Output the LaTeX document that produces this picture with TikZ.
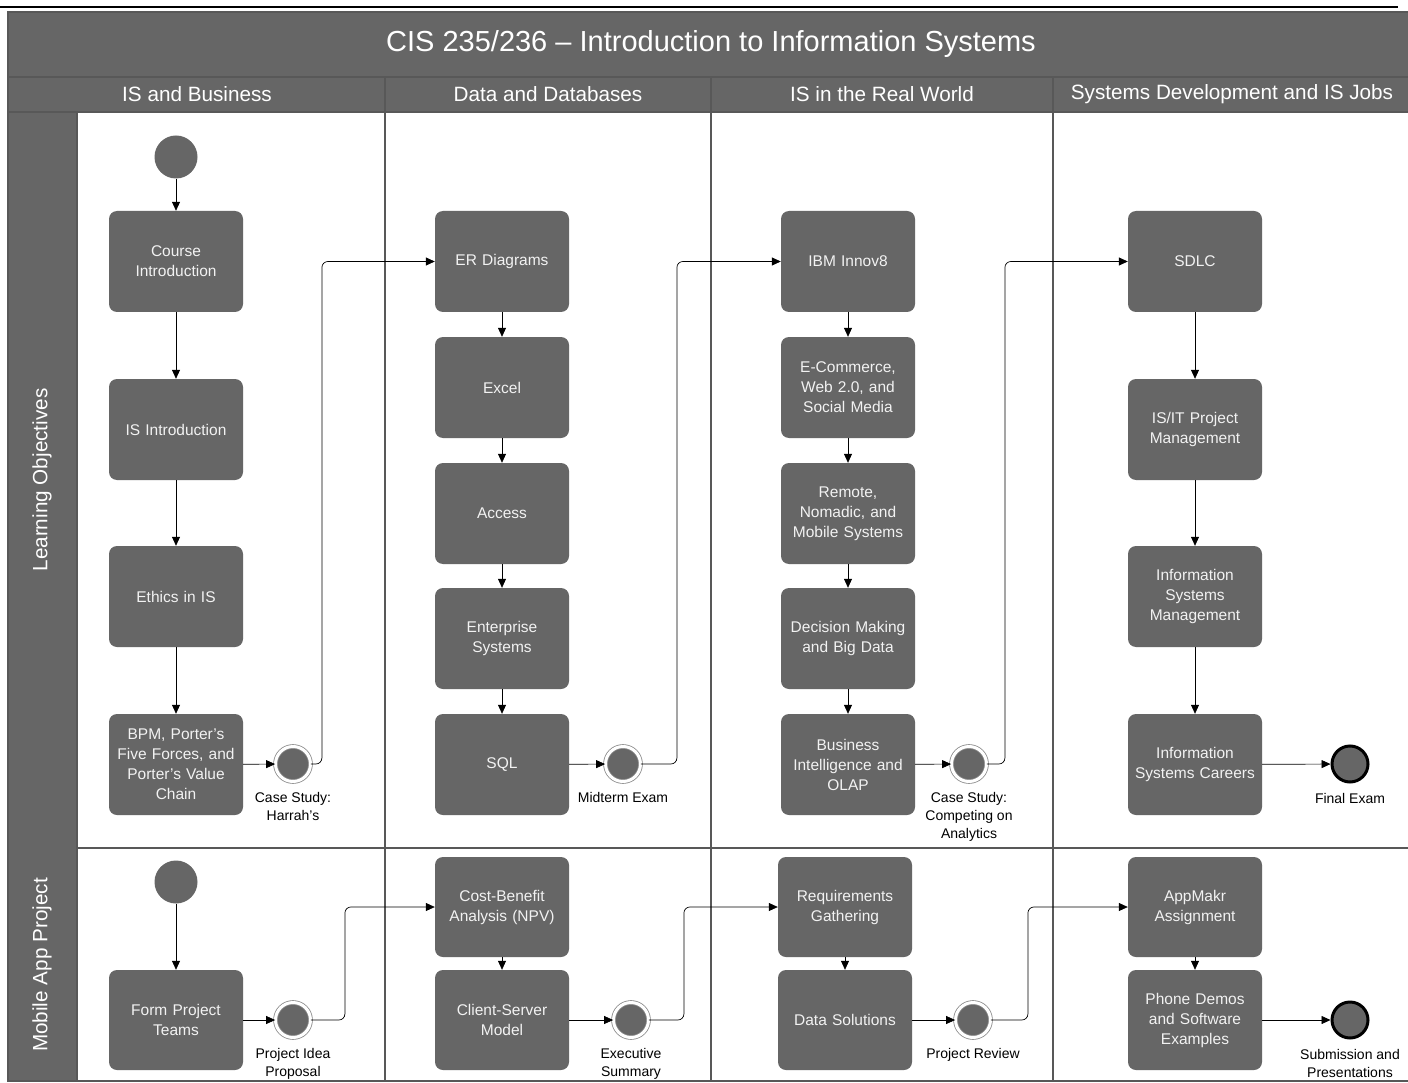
\documentclass[tikz,border=0pt]{standalone}
\usepackage{fontspec}
\setmainfont{Liberation Sans}
\usepackage{tikz}
\usetikzlibrary{arrows.meta,calc,positioning}
\definecolor{lanegray}{HTML}{666666}
\definecolor{framegray}{HTML}{585858}
\definecolor{ringgray}{HTML}{8A8A8A}
\definecolor{boxtext}{HTML}{F2F2F2}

\tikzset{
  task/.style={fill=lanegray,rounded corners=8pt,minimum width=134pt,minimum height=101pt,
    text width=130pt,align=center,text=boxtext,inner sep=0pt,font=\fontsize{15.5}{20}\selectfont},
  startdot/.style={circle,fill=lanegray,minimum size=43pt,inner sep=0pt},
  milestone/.style={circle,fill=lanegray,minimum size=35pt,inner sep=0pt,draw=ringgray,
    line width=0.8pt,double=white,double distance=3pt},
  enddot/.style={circle,fill=lanegray,draw=black,line width=3pt,minimum size=36pt,inner sep=0pt},
  mlabel/.style={align=center,font=\fontsize{14}{18}\selectfont,inner sep=0pt},
  flow/.style={-{Triangle[length=9pt,width=8pt]},line width=0.7pt,rounded corners=6pt},
  cell/.style={fill=white,draw=framegray,line width=2.5pt},
  band/.style={fill=lanegray,draw=framegray,line width=2.5pt},
  headtext/.style={text=white,font=\fontsize{20.7}{24}\selectfont},
}

\begin{document}
\begin{tikzpicture}[x=1pt,y=-1pt]
  \useasboundingbox (0,0) rectangle (1408,1083);
  \draw[line width=2pt] (0,7) -- (1398,7);
  % frame
  \draw[band] (8,12) rectangle (1412,1081);
  \draw[band] (8,77) -- (1412,77);
  \draw[band] (8,112) -- (1412,112);
  \foreach \xa/\xb in {77/385,385/711,711/1053,1053/1412}{
    \draw[cell] (\xa,112) rectangle (\xb,848);
    \draw[cell] (\xa,848) rectangle (\xb,1081);
  }
  \foreach \xa in {385,711,1053}{\draw[framegray,line width=2.5pt] (\xa,77) -- (\xa,112);}
  \node[headtext,font=\fontsize{29}{32}\selectfont] (title) at (711,44) {CIS 235/236 -- Introduction to Information Systems};
  \node[headtext] (h1) at (197,94) {IS and Business};
  \node[headtext] (h2) at (548,94) {Data and Databases};
  \node[headtext] (h3) at (882,94) {IS in the Real World};
  \node[headtext] (h4) at (1232,94) {Systems Development and IS Jobs};
  \node[headtext,rotate=90] (lane1) at (42,480) {Learning Objectives};
  \node[headtext,rotate=90] (lane2) at (42,965) {Mobile App Project};

  % learning objectives
  \node[startdot] (s1) at (176,157) {};
  \node[task] (intro) at (176,261.5) {Course\\Introduction};
  \node[task] (isintro) at (176,429.5) {IS Introduction};
  \node[task] (ethics) at (176,596.5) {Ethics in IS};
  \node[task] (bpm) at (176,764.5) {BPM, Porter's\\Five Forces, and\\Porter's Value\\Chain};
  \node[milestone] (harrah) at (293,764) {};
  \node[mlabel,below=10pt of harrah] (harrahlbl) {Case Study:\\Harrah's};

  \node[task] (er) at (502,261.5) {ER Diagrams};
  \node[task] (excel) at (502,387.5) {Excel};
  \node[task] (access) at (502,513.5) {Access};
  \node[task] (erp) at (502,638.5) {Enterprise\\Systems};
  \node[task] (sql) at (502,764.5) {SQL};
  \node[milestone] (midterm) at (623,764) {};
  \node[mlabel,below=10pt of midterm] (midtermlbl) {Midterm Exam};

  \node[task] (ibm) at (848,261.5) {IBM Innov8};
  \node[task] (ecom) at (848,387.5) {E-Commerce,\\Web 2.0, and\\Social Media};
  \node[task] (mobile) at (848,513.5) {Remote,\\Nomadic, and\\Mobile Systems};
  \node[task] (bigdata) at (848,638.5) {Decision Making\\and Big Data};
  \node[task] (bi) at (848,764.5) {Business\\Intelligence and\\OLAP};
  \node[milestone] (analytics) at (969,764) {};
  \node[mlabel,below=10pt of analytics] (analyticslbl) {Case Study:\\Competing on\\Analytics};

  \node[task] (sdlc) at (1195,261.5) {SDLC};
  \node[task] (pm) at (1195,429.5) {IS/IT Project\\Management};
  \node[task] (ism) at (1195,596.5) {Information\\Systems\\Management};
  \node[task] (careers) at (1195,764.5) {Information\\Systems Careers};
  \node[enddot] (final) at (1350,764) {};
  \node[mlabel,below=10pt of final] (finallbl) {Final Exam};

  \draw[flow] (s1) -- (intro);
  \draw[flow] (intro) -- (isintro);
  \draw[flow] (isintro) -- (ethics);
  \draw[flow] (ethics) -- (bpm);
  \draw[flow] (bpm) -- (harrah);
  \draw[flow] (harrah.east) -- ++(11,0) |- (er.west);
  \draw[flow] (er) -- (excel);
  \draw[flow] (excel) -- (access);
  \draw[flow] (access) -- (erp);
  \draw[flow] (erp) -- (sql);
  \draw[flow] (sql) -- (midterm);
  \draw[flow] (midterm.east) -- ++(36,0) |- (ibm.west);
  \draw[flow] (ibm) -- (ecom);
  \draw[flow] (ecom) -- (mobile);
  \draw[flow] (mobile) -- (bigdata);
  \draw[flow] (bigdata) -- (bi);
  \draw[flow] (bi) -- (analytics);
  \draw[flow] (analytics.east) -- ++(18,0) |- (sdlc.west);
  \draw[flow] (sdlc) -- (pm);
  \draw[flow] (pm) -- (ism);
  \draw[flow] (ism) -- (careers);
  \draw[flow] (careers) -- (final);

  % mobile app project
  \node[startdot] (s2) at (176,882) {};
  \node[task,minimum height=100pt] (teams) at (176,1020) {Form Project\\Teams};
  \node[milestone] (proposal) at (293,1020) {};
  \node[mlabel,below=10pt of proposal] (proposallbl) {Project Idea\\Proposal};

  \node[task,minimum height=100pt] (npv) at (502,907) {Cost-Benefit\\Analysis (NPV)};
  \node[task,minimum height=100pt] (client) at (502,1020) {Client-Server\\Model};
  \node[milestone] (summary) at (631,1020) {};
  \node[mlabel,below=10pt of summary] (summarylbl) {Executive\\Summary};

  \node[task,minimum height=100pt] (req) at (845,907) {Requirements\\Gathering};
  \node[task,minimum height=100pt] (datasol) at (845,1020) {Data Solutions};
  \node[milestone] (review) at (973,1020) {};
  \node[mlabel,below=10pt of review] (reviewlbl) {Project Review};

  \node[task,minimum height=100pt] (appmakr) at (1195,907) {AppMakr\\Assignment};
  \node[task,minimum height=100pt] (demos) at (1195,1020) {Phone Demos\\and Software\\Examples};
  \node[enddot] (submit) at (1350,1020) {};
  \node[mlabel,below=10pt of submit] (submitlbl) {Submission and\\Presentations};

  \draw[flow] (s2) -- (teams);
  \draw[flow] (teams) -- (proposal);
  \draw[flow] (proposal.east) -- ++(34,0) |- (npv.west);
  \draw[flow] (npv) -- (client);
  \draw[flow] (client) -- (summary);
  \draw[flow] (summary.east) -- ++(35,0) |- (req.west);
  \draw[flow] (req) -- (datasol);
  \draw[flow] (datasol) -- (review);
  \draw[flow] (review.east) -- ++(37,0) |- (appmakr.west);
  \draw[flow] (appmakr) -- (demos);
  \draw[flow] (demos) -- (submit);
\end{tikzpicture}
\end{document}
